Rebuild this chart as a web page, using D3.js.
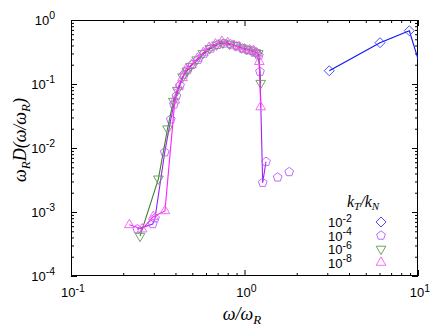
<!DOCTYPE html>
<html>
<head>
<meta charset="utf-8">
<script src="https://cdn.jsdelivr.net/npm/d3@7"></script>
<style>
  html, body { margin: 0; padding: 0; background: #fff; }
  svg { display: block; }
  .tk { font-family: "Liberation Sans", Arial, sans-serif; font-size: 13px; fill: #000; }
  .ttl { font-family: "Liberation Serif", "DejaVu Serif", serif; font-style: italic; fill: #000; }
</style>
</head>
<body>
<div id="chart"></div>
<script>
// series: k_T/k_N = 1e-2, 1e-4, 1e-6, 1e-8
const seriesNames = ["-2", "-4", "-6", "-8"];

const xK2 = [3.08, 6.04, 8.91, 11.0];
const yK2 = [0.161, 0.442, 0.68, 0.107];

const xK4 = [0.241, 0.296, 0.305, 0.347, 0.376, 0.392, 0.405, 0.425, 0.448, 0.47, 0.5, 0.54, 0.585, 0.64, 0.70, 0.76, 0.83, 0.90, 0.97, 1.04, 1.11, 1.17, 1.21, 1.228, 1.273, 1.33];
const yK4 = [5.4e-4, 6.5e-4, 8.0e-4, 8.6e-3, 0.028, 0.048, 0.065, 0.095, 0.14, 0.165, 0.2, 0.24, 0.3, 0.36, 0.41, 0.43, 0.42, 0.39, 0.36, 0.34, 0.33, 0.31, 0.28, 0.156, 2.87e-3, 6.1e-3];
// loose points of the same run, not joined
const xK4b = [1.553, 1.81];
const yK4b = [3.48e-3, 4.22e-3];

const xK6 = [0.250, 0.319, 0.36, 0.389, 0.41, 0.44, 0.465, 0.49, 0.53, 0.575, 0.63, 0.69, 0.75, 0.82, 0.89, 0.96, 1.03, 1.1, 1.16, 1.2, 1.24];
const yK6 = [4.2e-4, 3.3e-3, 0.02, 0.054, 0.08, 0.13, 0.16, 0.19, 0.24, 0.3, 0.36, 0.41, 0.44, 0.42, 0.4, 0.37, 0.35, 0.33, 0.31, 0.3, 0.103];

const xK8 = [0.217, 0.257, 0.298, 0.348, 0.397, 0.415, 0.44, 0.46, 0.495, 0.535, 0.58, 0.625, 0.68, 0.74, 0.8, 0.87, 0.93, 1.0, 1.07, 1.13, 1.18, 1.217, 1.24];
const yK8 = [6.3e-4, 5.4e-4, 8.45e-4, 1.04e-3, 0.056, 0.09, 0.125, 0.17, 0.2, 0.25, 0.31, 0.37, 0.42, 0.46, 0.44, 0.4, 0.38, 0.35, 0.34, 0.33, 0.3, 0.223, 0.0437];

const xDecades = [-1, 0, 1];
const yDecades = [0, -1, -2, -3, -4];

(function () {
  const W = 436, H = 327;
  const L = 71, R = 418, T = 20, B = 276;

  const x = d3.scaleLog().domain([0.1, 10]).range([L, R]);
  const y = d3.scaleLog().domain([1e-4, 1]).range([B, T]);

  const svg = d3.select("#chart").append("svg").attr("width", W).attr("height", H);

  svg.append("clipPath").attr("id", "clip")
    .append("rect").attr("x", L).attr("y", T).attr("width", R - L).attr("height", B - T);

  const minorX = [], minorY = [];
  [-1, 0].forEach(e => { for (let k = 2; k < 10; k++) minorX.push(k * Math.pow(10, e)); });
  [-4, -3, -2, -1].forEach(e => { for (let k = 2; k < 10; k++) minorY.push(k * Math.pow(10, e)); });
  const majX = xDecades.map(e => Math.pow(10, e));
  const majY = yDecades.map(e => Math.pow(10, e));

  function ticks(axis, vals, size, tr) {
    const g = svg.append("g").attr("transform", tr)
      .call(axis.tickValues(vals).tickSize(size).tickFormat(""));
    g.select(".domain").remove();
    g.selectAll(".tick line").attr("stroke", "#000").attr("stroke-width", 1);
    return g;
  }
  ticks(d3.axisBottom(x), majX, -6, `translate(0,${B})`);
  ticks(d3.axisBottom(x), minorX, -3, `translate(0,${B})`);
  ticks(d3.axisTop(x), majX, -6, `translate(0,${T})`);
  ticks(d3.axisTop(x), minorX, -3, `translate(0,${T})`);
  ticks(d3.axisLeft(y), majY, -6, `translate(${L},0)`);
  ticks(d3.axisLeft(y), minorY, -3, `translate(${L},0)`);
  ticks(d3.axisRight(y), majY, -6, `translate(${R},0)`);
  ticks(d3.axisRight(y), minorY, -3, `translate(${R},0)`);

  svg.append("rect").attr("x", L + 0.5).attr("y", T + 0.5)
    .attr("width", R - L - 1).attr("height", B - T - 1)
    .attr("fill", "none").attr("stroke", "#000").attr("stroke-width", 1);

  // tick labels 10^n
  function pow10(sel, e) {
    sel.append("tspan").text("10");
    sel.append("tspan").attr("dy", -5.5).attr("font-size", 10.5).text(e);
  }
  xDecades.forEach(e => {
    svg.append("text").attr("class", "tk").attr("x", x(Math.pow(10, e)) + 2).attr("y", 297)
      .attr("text-anchor", "middle").call(pow10, e);
  });
  yDecades.forEach(e => {
    svg.append("text").attr("class", "tk").attr("x", 55).attr("y", y(Math.pow(10, e)) + 4.5)
      .attr("text-anchor", "end").call(pow10, e);
  });

  // axis titles
  const xt = svg.append("text").attr("class", "ttl").attr("font-size", 18)
    .attr("x", 242).attr("y", 320).attr("text-anchor", "middle");
  xt.append("tspan").text("ω/ω");
  xt.append("tspan").attr("dy", 4).attr("font-size", 13).text("R");

  const yt = svg.append("text").attr("class", "ttl").attr("font-size", 18)
    .attr("transform", "translate(26,140) rotate(-90)").attr("text-anchor", "middle");
  yt.append("tspan").text("ω");
  yt.append("tspan").attr("dy", 4).attr("font-size", 13).text("R");
  yt.append("tspan").attr("dy", -4).text("D(ω/ω");
  yt.append("tspan").attr("dy", 4).attr("font-size", 13).text("R");
  yt.append("tspan").attr("dy", -4).text(")");

  // marker shapes
  function poly(n, r, rot) {
    const p = [];
    for (let i = 0; i < n; i++) {
      const a = rot + i * 2 * Math.PI / n;
      p.push([r * Math.sin(a), -r * Math.cos(a)]);
    }
    return "M" + p.map(q => q[0].toFixed(2) + "," + q[1].toFixed(2)).join("L") + "Z";
  }
  const shapes = {
    diamond: poly(4, 5, 0),
    pentagon: poly(5, 4.6, 0),
    tdown: poly(3, 5.6, Math.PI),
    tup: poly(3, 5.6, 0)
  };

  const series = [
    { xs: xK2, ys: yK2, line: "#1010ff", mark: "#3a3aff", shape: "diamond" },
    { xs: xK4, ys: yK4, line: "#a020f0", mark: "#b45cff", shape: "pentagon", xs2: xK4b, ys2: yK4b },
    { xs: xK6, ys: yK6, line: "#3f7f2f", mark: "#5f9a4f", shape: "tdown" },
    { xs: xK8, ys: yK8, line: "#ff20ff", mark: "#f060f0", shape: "tup" }
  ];

  const plot = svg.append("g").attr("clip-path", "url(#clip)");
  const line = d3.line().x(d => x(d[0])).y(d => y(d[1]));

  series.forEach(s => {
    const pts = s.xs.map((v, i) => [v, s.ys[i]]);
    plot.append("path").datum(pts).attr("d", line)
      .attr("fill", "none").attr("stroke", s.line).attr("stroke-width", 1.1);
    const all = s.xs2 ? pts.concat(s.xs2.map((v, i) => [v, s.ys2[i]])) : pts;
    plot.append("g").selectAll("path").data(all).join("path")
      .attr("d", shapes[s.shape])
      .attr("transform", d => `translate(${x(d[0])},${y(d[1])})`)
      .attr("fill", "none").attr("stroke", s.mark).attr("stroke-width", 0.9);
  });

  // legend
  const lt = svg.append("text").attr("class", "ttl").attr("font-size", 16)
    .attr("x", 347).attr("y", 207);
  lt.append("tspan").text("k");
  lt.append("tspan").attr("dy", 3).attr("font-size", 11).text("T");
  lt.append("tspan").attr("dy", -3).text("/k");
  lt.append("tspan").attr("dy", 3).attr("font-size", 11).text("N");

  const rowY = d3.scalePoint().domain(seriesNames).range([222, 262.5]);
  seriesNames.forEach((nm, i) => {
    svg.append("text").attr("class", "tk").attr("x", 328).attr("y", rowY(nm) + 5)
      .call(pow10, nm);
    svg.append("path").attr("d", shapes[series[i].shape])
      .attr("transform", `translate(381,${rowY(nm)})`)
      .attr("fill", "none").attr("stroke", series[i].mark).attr("stroke-width", 0.9);
  });
})();
</script>
</body>
</html>
